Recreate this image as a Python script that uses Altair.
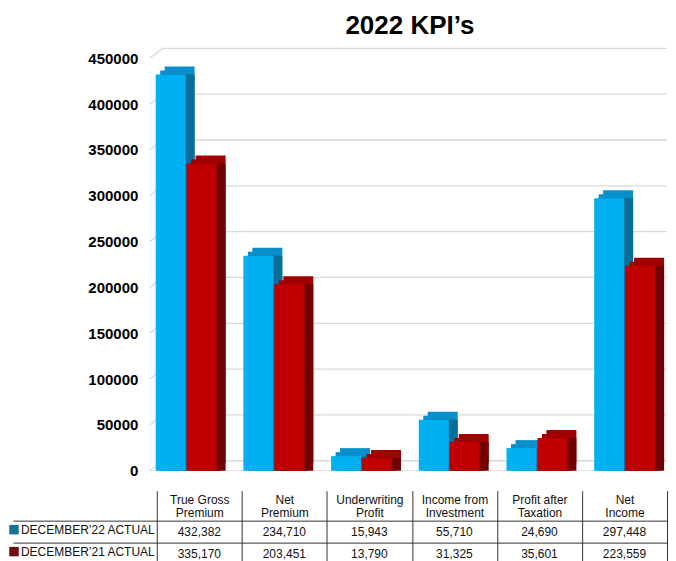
import altair as alt
import pandas as pd

categories = ["True Gross\nPremium", "Net\nPremium", "Underwriting\nProfit",
              "Income from\nInvestment", "Profit after\nTaxation", "Net\nIncome"]
series = ["DECEMBER’22 ACTUAL", "DECEMBER’21 ACTUAL"]
dec22 = [432382, 234710, 15943, 55710, 24690, 297448]
dec21 = [335170, 203451, 13790, 31325, 35601, 223559]
y_ticks = [0, 50000, 100000, 150000, 200000, 250000, 300000, 350000, 400000, 450000]

front_colors = ["#00B0F0", "#C00000"]
top_colors = ["#0A8FCC", "#A00000"]
side_colors = ["#0A6E9A", "#720000"]
legend_colors = ["#1A6F94", "#6B0F10"]

rows = []
for c, a, b in zip(categories, dec22, dec21):
    rows.append({"cat": c, "series": series[0], "value": a, "label": f"{a:,}"})
    rows.append({"cat": c, "series": series[1], "value": b, "label": f"{b:,}"})
df = pd.DataFrame(rows)
ticks_df = pd.DataFrame({"value": y_ticks})

W, H = 527, 413
DX, DY = 9, -8
GX, GY = 13, -10
OFFS = [-14, 17]
BW = 30
FONT = "Liberation Sans, Arial, sans-serif"

xs = alt.X("cat:N", sort=categories,
           scale=alt.Scale(domain=categories, paddingInner=0, paddingOuter=0),
           axis=None)
ys = alt.Y("value:Q", scale=alt.Scale(domain=[0, 450000], nice=False),
           axis=alt.Axis(values=y_ticks, format="d", title=None, labelFont=FONT,
                         labelFontWeight="bold", labelFontSize=15, labelColor="#000",
                         domain=False, ticks=False, grid=False, labelPadding=3))

grid = alt.Chart(ticks_df).mark_rule(color="#d9d9d9", strokeWidth=1.3, yOffset=GY).encode(
    y=ys, x=alt.value(9 + GX), x2=alt.value(W))
diag = alt.Chart(ticks_df).mark_rule(color="#d9d9d9", strokeWidth=1.3, y2Offset=GY).encode(
    y=ys, y2=alt.Y2("value"), x=alt.value(9), x2=alt.value(9 + GX))
floor = alt.Chart(ticks_df).transform_filter(alt.datum.value == 0).mark_rule(
    color="#e6e6e6", strokeWidth=1.3).encode(y=ys, x=alt.value(9), x2=alt.value(W - GX))

layers = [grid, diag, floor]
for i, s in enumerate(series):
    base = alt.Chart(df).transform_filter(alt.datum.series == s)
    o = OFFS[i]
    faces = [
        dict(xOffset=o + DX, yOffset=DY, y2Offset=DY, color=top_colors[i]),
        dict(xOffset=o + DX / 2, yOffset=DY / 2, y2Offset=DY, color=top_colors[i]),
        dict(xOffset=o + DX, y2Offset=DY, color=side_colors[i]),
        dict(xOffset=o + DX / 2, y2Offset=DY / 2, color=side_colors[i]),
        dict(xOffset=o, color=front_colors[i]),
    ]
    for f in faces:
        layers.append(base.mark_bar(width=BW, **f).encode(x=xs, y=ys))

top = alt.layer(*layers).properties(
    width=W, height=H,
    title=alt.Title("2022 KPI’s", font=FONT, fontSize=26, fontWeight="bold",
                    color="#000", anchor="middle", dx=6, offset=9))

tx = alt.X("cat:N", sort=categories,
           scale=alt.Scale(domain=categories, paddingInner=0, paddingOuter=0.094, align=1),
           axis=alt.Axis(orient="top", title=None, tickBand="extent", ticks=True, tickSize=30,
                         tickColor="#333", grid=True, gridColor="#333", domain=False,
                         labelExpr="split(datum.label, '\\n')", labelFont=FONT,
                         labelFontSize=12, labelColor="#111", labelPadding=-16,
                         labelAngle=0, labelLineHeight=13))
ty = alt.Y("series:N", sort=series,
           scale=alt.Scale(domain=series, paddingInner=0, paddingOuter=0),
           axis=alt.Axis(title=None, labels=False, tickBand="extent", tickSize=128,
                         tickColor="#333", grid=True, gridColor="#333", domain=False))

cells = alt.Chart(df).mark_text(font=FONT, fontSize=12, color="#111").encode(
    x=tx, y=ty, text="label:N")
keys = alt.Chart(df).mark_square(opacity=0, size=1).encode(
    x=tx, y=ty,
    color=alt.Color("series:N", scale=alt.Scale(domain=series, range=legend_colors),
                    legend=alt.Legend(title=None, orient="none", legendX=-133, legendY=466,
                                      symbolType="square", symbolSize=90, symbolStrokeWidth=0,
                                      symbolOpacity=1, labelFont=FONT, labelFontSize=12,
                                      labelColor="#111", labelOffset=1, rowPadding=10,
                                      direction="vertical", padding=0)))
table = alt.layer(cells, keys).properties(width=W, height=44)

chart = alt.vconcat(top, table, spacing=11).properties(
    padding={"left": 0, "right": 0, "top": 4, "bottom": 0}).configure_view(stroke=None)

chart.save("out.html", embed_options={"renderer": "svg", "actions": False})
